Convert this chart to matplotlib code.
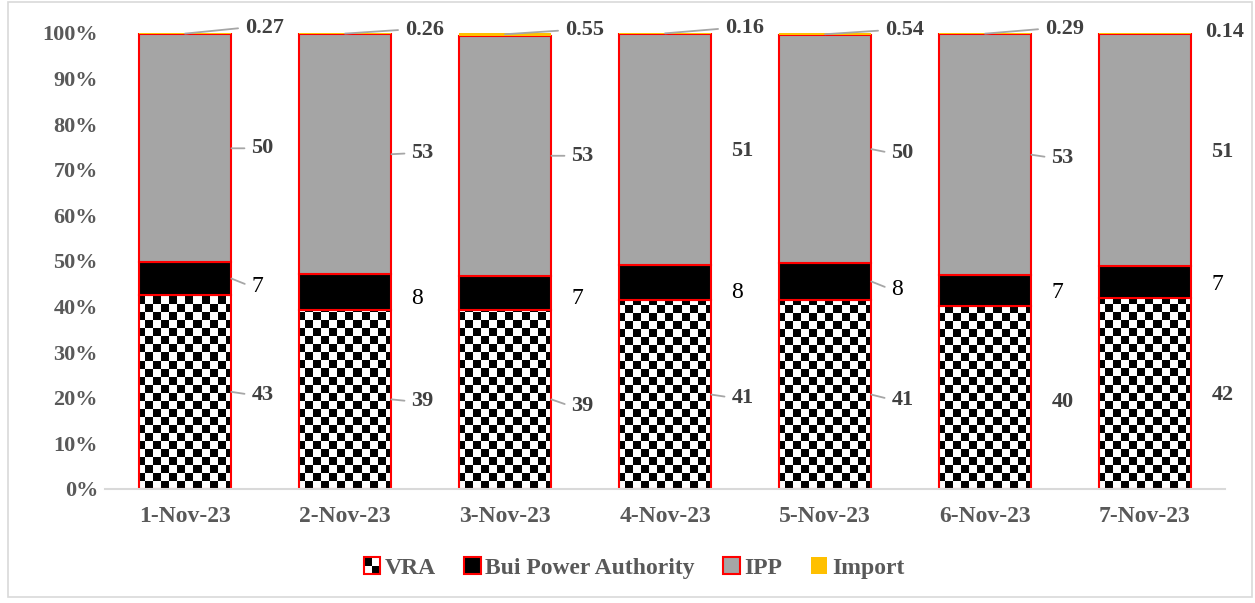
import numpy as np
import matplotlib as mpl
mpl.use('Agg')
import matplotlib.pyplot as plt
from matplotlib.patches import Rectangle
from matplotlib.colors import ListedColormap
from matplotlib.legend_handler import HandlerBase

mpl.rcParams['font.family'] = ['Liberation Serif', 'DejaVu Serif']

days = ['1-Nov-23', '2-Nov-23', '3-Nov-23', '4-Nov-23', '5-Nov-23', '6-Nov-23', '7-Nov-23']
vra = [42.6, 39.3, 39.3, 41.4, 41.4, 40.1, 41.9]
bui = [7.1, 7.8, 7.4, 7.7, 8.2, 6.8, 7.0]
ipp = [50.03, 52.64, 52.75, 50.74, 49.86, 52.81, 50.96]
imp = [0.27, 0.26, 0.55, 0.16, 0.54, 0.29, 0.14]

# label nudges in pixels (dy) and whether a leader line is drawn
vra_dy = [-3, -2, -7, -3, -5, -4, -2]
bui_dy = [-8, -6, -6, -10, -8, -2, -3]
ipp_dy = [0, 1, 0, -2, -4, -3, -2]
imp_dy = [6, 4, 4, 5, 4, 5, 1]
vra_lead = [True, True, True, True, True, False, False]
bui_lead = [True, False, False, False, True, False, False]
ipp_lead = [True, True, True, False, True, True, False]
imp_lead = [True, True, True, True, True, True, False]

W, H = 1255, 603
fig = plt.figure(figsize=(W / 100, H / 100), dpi=100)
ax = fig.add_axes([105 / W, (H - 489) / H, 1120 / W, 456 / H])

x = np.arange(len(days))
tot = np.array(vra) + np.array(bui) + np.array(ipp) + np.array(imp)
v = np.array(vra) / tot * 100
b = np.array(bui) / tot * 100
p = np.array(ipp) / tot * 100
m = np.array(imp) / tot * 100
width = 0.58

ax.set_xlim(-0.5, len(days) - 0.5)
ax.set_ylim(0, 100)

vbars = ax.bar(x, v, width, color='none', edgecolor='red', linewidth=1.5, zorder=3)
bbars = ax.bar(x, b, width, bottom=v, color='black', edgecolor='red', linewidth=1.5, zorder=3)
pbars = ax.bar(x, p, width, bottom=v + b, color='#A5A5A5', edgecolor='red', linewidth=1.5, zorder=3)
mbars = ax.bar(x, m, width, bottom=v + b + p, color='#FFC000', edgecolor='none', zorder=3)

# checkerboard fill for VRA, 8 px cells
nx, ny = 1120 // 8, 456 // 8
checker = np.add.outer(np.arange(ny), np.arange(nx)) % 2
cmap = ListedColormap(['white', 'black'])
for bar in vbars:
    im = ax.imshow(checker, cmap=cmap, interpolation='nearest', aspect='auto',
                   extent=(-0.5, len(days) - 0.5, 0, 100), origin='lower', zorder=2)
    im.set_clip_path(bar)
ax.set_xlim(-0.5, len(days) - 0.5)
ax.set_ylim(0, 100)

def put_labels(xs, ys, texts, dys, leads, dx, style):
    for i in range(len(days)):
        ap = None
        if leads[i]:
            ap = dict(arrowstyle='-', color='#A6A6A6', lw=1.3, shrinkA=3, shrinkB=0, relpos=(0, 0.5))
        ax.annotate(texts[i], xy=(xs[i], ys[i]), xytext=(dx, dys[i]),
                    textcoords='offset pixels', ha='left', va='center',
                    arrowprops=ap, annotation_clip=False, **style)

lbl_style = dict(fontsize=16, fontweight='bold', color='#404040')
edge = x + width / 2
put_labels(edge, v / 2, ['%.0f' % t for t in vra], vra_dy, vra_lead, 20, lbl_style)
put_labels(edge, v + b / 2, ['%.0f' % t for t in bui], bui_dy, bui_lead, 20, dict(fontsize=17, color='black'))
put_labels(edge, v + b + p / 2, ['%.0f' % t for t in ipp], ipp_dy, ipp_lead, 20, lbl_style)
put_labels(x, v + b + p + m / 2, ['%.2f' % t for t in imp], imp_dy, imp_lead, 60, lbl_style)

ax.set_xticks(x)
ax.set_xticklabels(days)
ax.set_yticks(np.arange(0, 101, 10))
ax.set_yticklabels(['%d%%' % t for t in range(0, 101, 10)])
for lab in ax.get_xticklabels():
    lab.set_fontweight('bold')
    lab.set_fontsize(17)
    lab.set_color('#595959')
for lab in ax.get_yticklabels():
    lab.set_fontweight('bold')
    lab.set_fontsize(16)
    lab.set_color('#595959')
ax.tick_params(axis='both', length=0)
ax.tick_params(axis='x', pad=12)
ax.tick_params(axis='y', pad=5)
for s in ['top', 'right', 'left']:
    ax.spines[s].set_visible(False)
ax.spines['bottom'].set_color('#D9D9D9')
ax.spines['bottom'].set_linewidth(1.5)
ax.spines['bottom'].set_zorder(4)


class CheckerHandler(HandlerBase):
    def create_artists(self, legend, orig_handle, xdescent, ydescent, width, height, fontsize, trans):
        s = min(width, height)
        x0 = -xdescent + (width - s) / 2
        y0 = -ydescent + (height - s) / 2
        h = s / 2
        return [Rectangle((x0, y0), s, s, fc='white', ec='none', transform=trans),
                Rectangle((x0, y0 + h), h, h, fc='black', ec='none', transform=trans),
                Rectangle((x0 + h, y0), h, h, fc='black', ec='none', transform=trans),
                Rectangle((x0, y0), s, s, fc='none', ec='red', lw=1.5, transform=trans)]


h_vra = Rectangle((0, 0), 1, 1)
h_bui = Rectangle((0, 0), 1, 1, fc='black', ec='red', lw=1.5)
h_ipp = Rectangle((0, 0), 1, 1, fc='#A5A5A5', ec='red', lw=1.5)
h_imp = Rectangle((0, 0), 1, 1, fc='#FFC000', ec='none')
leg = fig.legend([h_vra, h_bui, h_ipp, h_imp], ['VRA', 'Bui Power Authority', 'IPP', 'Import'],
                 handler_map={h_vra: CheckerHandler()}, loc='center',
                 bbox_to_anchor=(634 / W, 1 - 568 / H), ncol=4, frameon=False,
                 handlelength=0.7, handleheight=0.7, handletextpad=0.2, columnspacing=1.2,
                 prop=dict(size=17, weight='bold'))
for t in leg.get_texts():
    t.set_color('#595959')

fig.patches.append(Rectangle((8 / W, 6 / H), 1244 / W, 595 / H, transform=fig.transFigure,
                             fill=False, ec='#D9D9D9', lw=1.2))

fig.savefig('out.png', dpi=100)
